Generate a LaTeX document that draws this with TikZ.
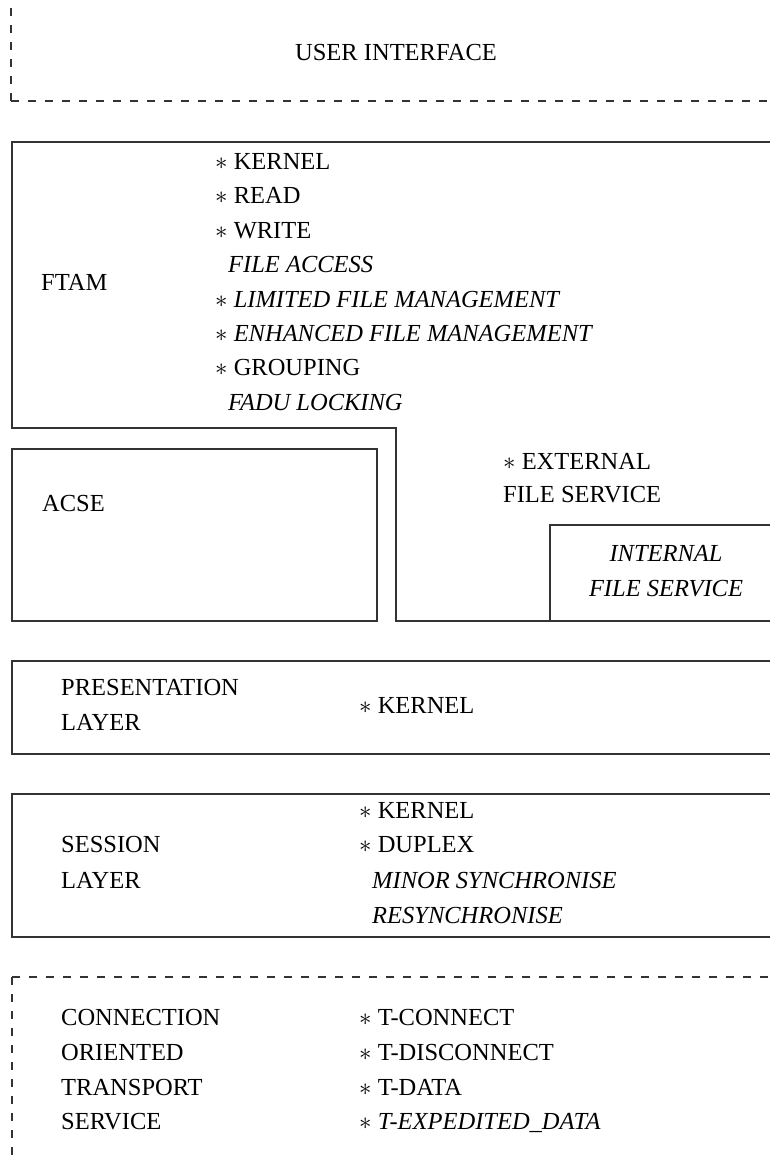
\documentclass[tikz,border=0pt]{standalone}
\usepackage{fontspec}
\setmainfont{Liberation Serif}
\newcommand\mystar{$\ast$}
\tikzset{
  lbl/.style={anchor=base west, inner sep=0pt, font=\fontsize{24.5}{29}\selectfont},
  clbl/.style={anchor=base, inner sep=0pt, font=\fontsize{24.5}{29}\selectfont},
  solidbox/.style={draw=black!80, line width=1.2pt},
  dashbox/.style={draw=black!80, line width=1.1pt, dash pattern=on 8pt off 9pt},
}
\begin{document}
\begin{tikzpicture}[x=1pt,y=-1pt]
\useasboundingbox (0,0) rectangle (770,1164);
\clip (0,0) rectangle (770,1164);
% user interface (dashed)
\draw[dashbox] (11,101) -- (11,-10);
\draw[dashbox] (11,101) -- (800,101);
\node[clbl] (ui) at (396,61) {USER INTERFACE};
% FTAM outline
\draw[solidbox] (800,142) -- (12,142) -- (12,428) -- (396,428) -- (396,621) -- (800,621);
\node[lbl] (ftam) at (41,290) {FTAM};
\node[lbl] (f1) at (215,169) {\mystar{} KERNEL};
\node[lbl] (f2) at (215,203) {\mystar{} READ};
\node[lbl] (f3) at (215,238) {\mystar{} WRITE};
\node[lbl] (f4) at (228,272) {\itshape FILE ACCESS};
\node[lbl] (f5) at (215,307) {\mystar{} \itshape LIMITED FILE MANAGEMENT};
\node[lbl] (f6) at (215,341) {\mystar{} \itshape ENHANCED FILE MANAGEMENT};
\node[lbl] (f7) at (215,375) {\mystar{} GROUPING};
\node[lbl] (f8) at (228,410) {\itshape FADU LOCKING};
% ACSE
\draw[solidbox] (12,449) rectangle (377,621);
\node[lbl] (acse) at (42,511) {ACSE};
% external / internal file service
\node[lbl] (ext1) at (503,469) {\mystar{} EXTERNAL};
\node[lbl] (ext2) at (503,502) {FILE SERVICE};
\draw[solidbox] (550,621) -- (550,525) -- (800,525);
\node[clbl] (int1) at (666,561) {\itshape INTERNAL};
\node[clbl] (int2) at (666,596) {\itshape FILE SERVICE};
% presentation
\draw[solidbox] (12,661) rectangle (800,754);
\node[lbl] (p1) at (61,695) {PRESENTATION};
\node[lbl] (p2) at (61,730) {LAYER};
\node[lbl] (p3) at (359,713) {\mystar{} KERNEL};
% session
\draw[solidbox] (12,794) rectangle (800,937);
\node[lbl] (s1) at (61,852) {SESSION};
\node[lbl] (s2) at (61,888) {LAYER};
\node[lbl] (s3) at (359,818) {\mystar{} KERNEL};
\node[lbl] (s4) at (359,852) {\mystar{} DUPLEX};
\node[lbl] (s5) at (372,888) {\itshape MINOR SYNCHRONISE};
\node[lbl] (s6) at (372,923) {\itshape RESYNCHRONISE};
% transport (dashed)
\draw[dashbox] (12,977) -- (12,1180);
\draw[dashbox] (12,977) -- (800,977);
\node[lbl] (t1) at (61,1025) {CONNECTION};
\node[lbl] (t2) at (61,1060) {ORIENTED};
\node[lbl] (t3) at (61,1095) {TRANSPORT};
\node[lbl] (t4) at (61,1129) {SERVICE};
\node[lbl] (t5) at (359,1025) {\mystar{} T-CONNECT};
\node[lbl] (t6) at (359,1060) {\mystar{} T-DISCONNECT};
\node[lbl] (t7) at (359,1095) {\mystar{} T-DATA};
\node[lbl] (t8) at (359,1129) {\mystar{} \itshape T-EXPEDITED\_DATA};
\end{tikzpicture}
\end{document}
